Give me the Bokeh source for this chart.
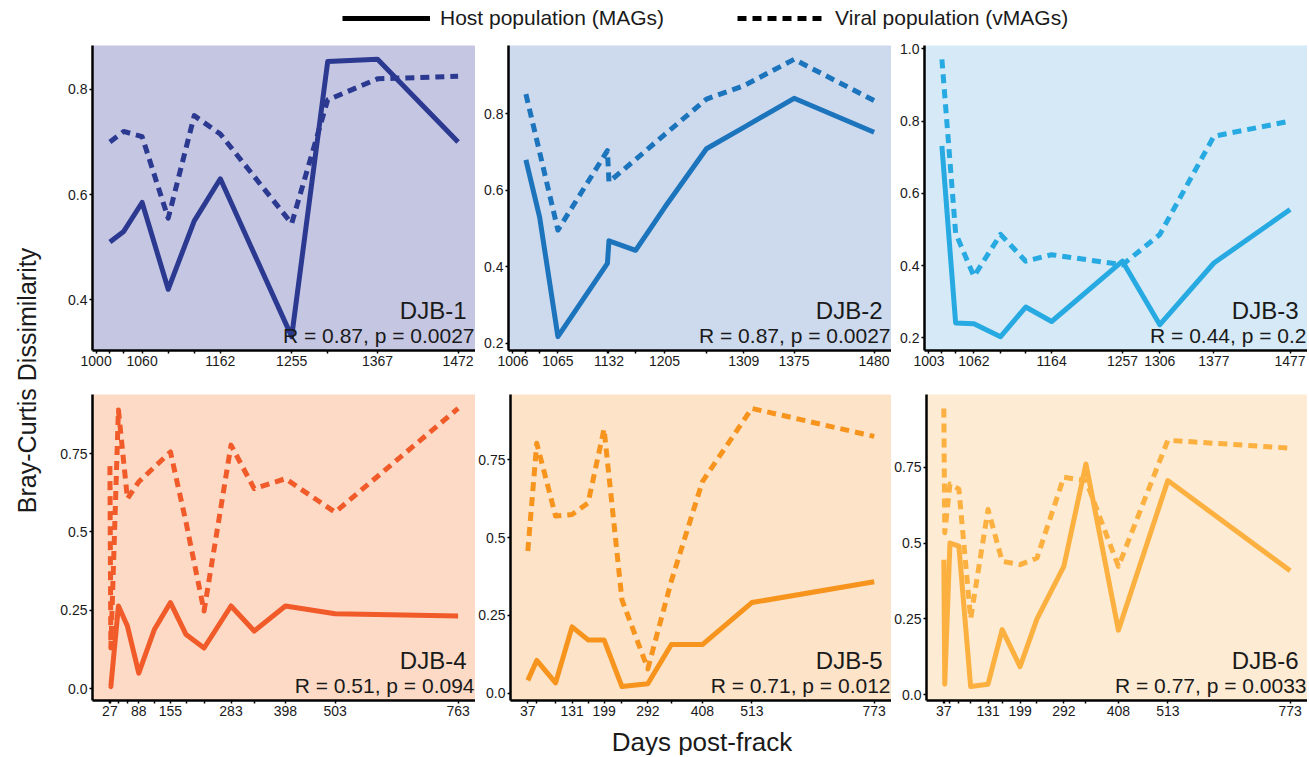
import math
import numpy as np
from bokeh.plotting import figure
from bokeh.layouts import row, column
from bokeh.models import (Range1d, FixedTicker, CustomJSTickFormatter, Label,
                          Legend, LegendItem, ColumnDataSource)
from bokeh.embed import file_html
from bokeh.resources import INLINE

# ---------------- data ----------------
panel_names = ["DJB-1", "DJB-2", "DJB-3", "DJB-4", "DJB-5", "DJB-6"]
panel_stats = ["R = 0.87, p = 0.0027", "R = 0.87, p = 0.0027", "R = 0.44, p = 0.2",
               "R = 0.51, p = 0.094", "R = 0.71, p = 0.012", "R = 0.77, p = 0.0033"]

days1 = [1018, 1036, 1060, 1094, 1128, 1162, 1255, 1302, 1367, 1472]
host1 = [0.51, 0.53, 0.585, 0.42, 0.55, 0.63, 0.33, 0.853, 0.857, 0.70]
viral1 = [0.70, 0.72, 0.71, 0.555, 0.75, 0.715, 0.545, 0.78, 0.82, 0.825]
xticks1 = [1000, 1018, 1036, 1060, 1094, 1128, 1162, 1255, 1302, 1367, 1472]
xlabels1 = [1000, 1060, 1162, 1255, 1367, 1472]
yticks1 = [0.4, 0.6, 0.8]

days2 = [1023, 1041, 1065, 1130, 1132, 1167, 1205, 1260, 1309, 1375, 1480]
host2 = [0.68, 0.53, 0.217, 0.409, 0.468, 0.443, 0.555, 0.709, 0.765, 0.841, 0.752]
viral2 = [0.852, 0.70, 0.496, 0.704, 0.622, 0.681, 0.746, 0.839, 0.874, 0.943, 0.835]
xticks2 = [1006, 1023, 1041, 1065, 1130, 1132, 1167, 1205, 1260, 1309, 1375, 1480]
xlabels2 = [1006, 1065, 1132, 1205, 1309, 1375, 1480]
yticks2 = [0.2, 0.4, 0.6, 0.8]

days3 = [1020, 1038, 1062, 1097, 1130, 1164, 1257, 1306, 1377, 1477]
host3 = [0.731, 0.241, 0.239, 0.203, 0.285, 0.245, 0.412, 0.236, 0.407, 0.555]
viral3 = [0.971, 0.49, 0.370, 0.486, 0.412, 0.43, 0.402, 0.486, 0.758, 0.80]
xticks3 = [1003, 1020, 1038, 1062, 1097, 1130, 1164, 1257, 1306, 1377, 1477]
xlabels3 = [1003, 1062, 1164, 1257, 1306, 1377, 1477]
yticks3 = [0.2, 0.4, 0.6, 0.8, 1.0]

days4 = [27, 29, 45, 64, 88, 121, 155, 188, 226, 283, 332, 398, 503, 763]
host4 = [0.01, 0.007, 0.264, 0.20, 0.05, 0.189, 0.275, 0.173, 0.130, 0.264, 0.184, 0.264, 0.239, 0.232]
viral4 = [0.71, 0.13, 0.889, 0.606, 0.66, 0.707, 0.755, 0.53, 0.248, 0.777, 0.638, 0.67, 0.563, 0.894]
xticks4 = [27, 29, 45, 64, 88, 121, 155, 188, 226, 283, 332, 398, 503, 763]
xlabels4 = [27, 88, 155, 283, 398, 503, 763]
yticks4 = [0.0, 0.25, 0.5, 0.75]

days5 = [37, 56, 96, 131, 165, 199, 237, 292, 342, 408, 513, 773]
host5 = [0.041, 0.105, 0.033, 0.213, 0.171, 0.171, 0.021, 0.030, 0.156, 0.156, 0.291, 0.358]
viral5 = [0.457, 0.803, 0.569, 0.574, 0.611, 0.849, 0.30, 0.078, 0.36, 0.68, 0.915, 0.825]
xticks5 = [37, 56, 96, 131, 165, 199, 237, 292, 342, 408, 513, 773]
xlabels5 = [37, 131, 199, 292, 408, 513, 773]
yticks5 = [0.0, 0.25, 0.5, 0.75]

days6 = [37, 39, 50, 69, 94, 131, 161, 199, 235, 292, 339, 408, 513, 773]
host6 = [0.445, 0.035, 0.50, 0.49, 0.027, 0.035, 0.215, 0.093, 0.25, 0.423, 0.761, 0.213, 0.706, 0.409]
viral6 = [0.944, 0.534, 0.695, 0.678, 0.251, 0.611, 0.44, 0.429, 0.451, 0.717, 0.706, 0.423, 0.839, 0.813]
xticks6 = [37, 39, 50, 69, 94, 131, 161, 199, 235, 292, 339, 408, 513, 773]
xlabels6 = [37, 131, 199, 292, 408, 513, 773]
yticks6 = [0.0, 0.25, 0.5, 0.75]

legend_labels = ["Host population (MAGs)", "Viral population (vMAGs)"]
x_title = "Days post-frack"
y_title = "Bray-Curtis Dissimilarity"

# ---------------- styles ----------------
line_colors = ["#2B3990", "#1C75BC", "#27AAE1", "#F15A29", "#F7941D", "#FBB040"]
bg_colors = ["#C5C6E2", "#CDD9ED", "#D6E9F7", "#FCDAC6", "#FDE3C8", "#FEEBD3"]
FONT = "Liberation Sans"
TXT = "#1a1a1a"
DASH = "9 6"
LW = 5

FRAME_W = 383
FRAME_HS = [305, 306]
YT_W = 48
LEFTS = [44, 33, 33]
RIGHTS = [0, 0, 0]
ROW_TB = [(15, 44), (0, 26)]
LEG_H = 30
XT_H = 29

yfmt_code = "let s = tick.toFixed(2); if (s.endsWith('0')) { s = s.slice(0, -1); } return s;"
xfmt_code = "return show.includes(tick) ? String(tick) : '';"


def blank(w, h):
    f = figure(width=w, height=h, x_range=Range1d(0, w), y_range=Range1d(0, h),
               x_axis_type=None, y_axis_type=None, output_backend="svg",
               toolbar_location=None, min_border=0, min_border_left=0,
               min_border_right=0, min_border_top=0, min_border_bottom=0)
    f.outline_line_color = None
    return f


def make_panel(k, days, host, viral, xticks, xlabels, yticks):
    col = k % 3
    rw = k // 3
    top, bottom = ROW_TB[rw]
    left, right = LEFTS[col], RIGHTS[col]
    xspan = max(days) - min(days)
    vals = host + viral
    yspan = max(vals) - min(vals)
    xr = Range1d(min(days) - 0.05 * xspan, max(days) + 0.05 * xspan)
    yr = Range1d(min(vals) - 0.05 * yspan, max(vals) + 0.05 * yspan)
    p = figure(width=left + FRAME_W + right, height=top + FRAME_HS[rw] + bottom,
               x_range=xr, y_range=yr, output_backend="svg", toolbar_location=None,
               min_border_left=left, min_border_right=right,
               min_border_top=top, min_border_bottom=bottom)
    p.background_fill_color = bg_colors[k]
    p.border_fill_color = "white"
    p.outline_line_color = None
    p.grid.visible = False
    src = ColumnDataSource(dict(day=days, host=host, viral=viral))
    c = line_colors[k]
    p.line("day", "viral", source=src, line_width=LW, line_color=c,
           line_dash=DASH, line_join="round")
    p.line("day", "host", source=src, line_width=LW, line_color=c, line_join="round")

    p.xaxis.ticker = FixedTicker(ticks=xticks, minor_ticks=[])
    p.xaxis.formatter = CustomJSTickFormatter(args=dict(show=xlabels), code=xfmt_code)
    p.yaxis.ticker = FixedTicker(ticks=yticks, minor_ticks=[])
    p.yaxis.formatter = CustomJSTickFormatter(code=yfmt_code)
    for ax in (p.xaxis[0], p.yaxis[0]):
        ax.axis_line_width = 2.5
        ax.axis_line_color = "black"
        ax.major_tick_line_color = "black"
        ax.major_tick_line_width = 1.5
        ax.major_tick_out = 3
        ax.major_tick_in = 0
        ax.minor_tick_line_color = None
        ax.major_label_text_font = FONT
        ax.major_label_text_font_size = "14px"
        ax.major_label_text_color = TXT
        ax.major_label_standoff = 2

    p.add_layout(Label(x=xr.end, y=yr.start, x_offset=-1, y_offset=15,
                       text=panel_stats[k], text_align="right", text_baseline="middle",
                       text_font=FONT, text_font_size="21px", text_color=TXT))
    p.add_layout(Label(x=xr.end, y=yr.start, x_offset=-9, y_offset=40,
                       text=panel_names[k], text_align="right", text_baseline="middle",
                       text_font=FONT, text_font_size="24px", text_color=TXT))
    return p


data = [
    (days1, host1, viral1, xticks1, xlabels1, yticks1),
    (days2, host2, viral2, xticks2, xlabels2, yticks2),
    (days3, host3, viral3, xticks3, xlabels3, yticks3),
    (days4, host4, viral4, xticks4, xlabels4, yticks4),
    (days5, host5, viral5, xticks5, xlabels5, yticks5),
    (days6, host6, viral6, xticks6, xlabels6, yticks6),
]
panels = [make_panel(k, *d) for k, d in enumerate(data)]

col_widths = [LEFTS[i] + FRAME_W + RIGHTS[i] for i in range(3)]
total_w = YT_W + sum(col_widths)
rows_h = sum(t + h + b for (t, b), h in zip(ROW_TB, FRAME_HS))

# y title
yt = blank(YT_W, rows_h)
yt.add_layout(Label(x=26, y=rows_h - 350, text=y_title, angle=math.pi / 2,
                    text_align="center", text_baseline="middle",
                    text_font=FONT, text_font_size="25px", text_color=TXT))

# legend
lg = blank(total_w, LEG_H)
nan = np.array([np.nan])
r_host = lg.line(x=nan, y=nan, line_color="black", line_width=5)
r_vir = lg.line(x=nan, y=nan, line_color="black", line_width=5, line_dash=DASH)
leg = Legend(items=[LegendItem(label=legend_labels[0], renderers=[r_host]),
                    LegendItem(label=legend_labels[1], renderers=[r_vir])],
             orientation="horizontal", location=(342, 0), spacing=73, label_standoff=10,
             glyph_width=88, glyph_height=22, label_height=22, padding=0, margin=0,
             border_line_color=None, background_fill_alpha=0,
             label_text_font=FONT, label_text_font_size="21px", label_text_color=TXT)
lg.add_layout(leg)

# x title
xt = blank(total_w, XT_H)
mid_center = YT_W + col_widths[0] + LEFTS[1] + FRAME_W / 2 + 2
xt.add_layout(Label(x=mid_center, y=14, text=x_title, text_align="center",
                    text_baseline="middle", text_font=FONT, text_font_size="26px",
                    text_color=TXT))

grid = column(row(*panels[:3]), row(*panels[3:]))
layout = column(lg, row(yt, grid), xt)

open("out.html", "w").write(file_html(layout, INLINE))
